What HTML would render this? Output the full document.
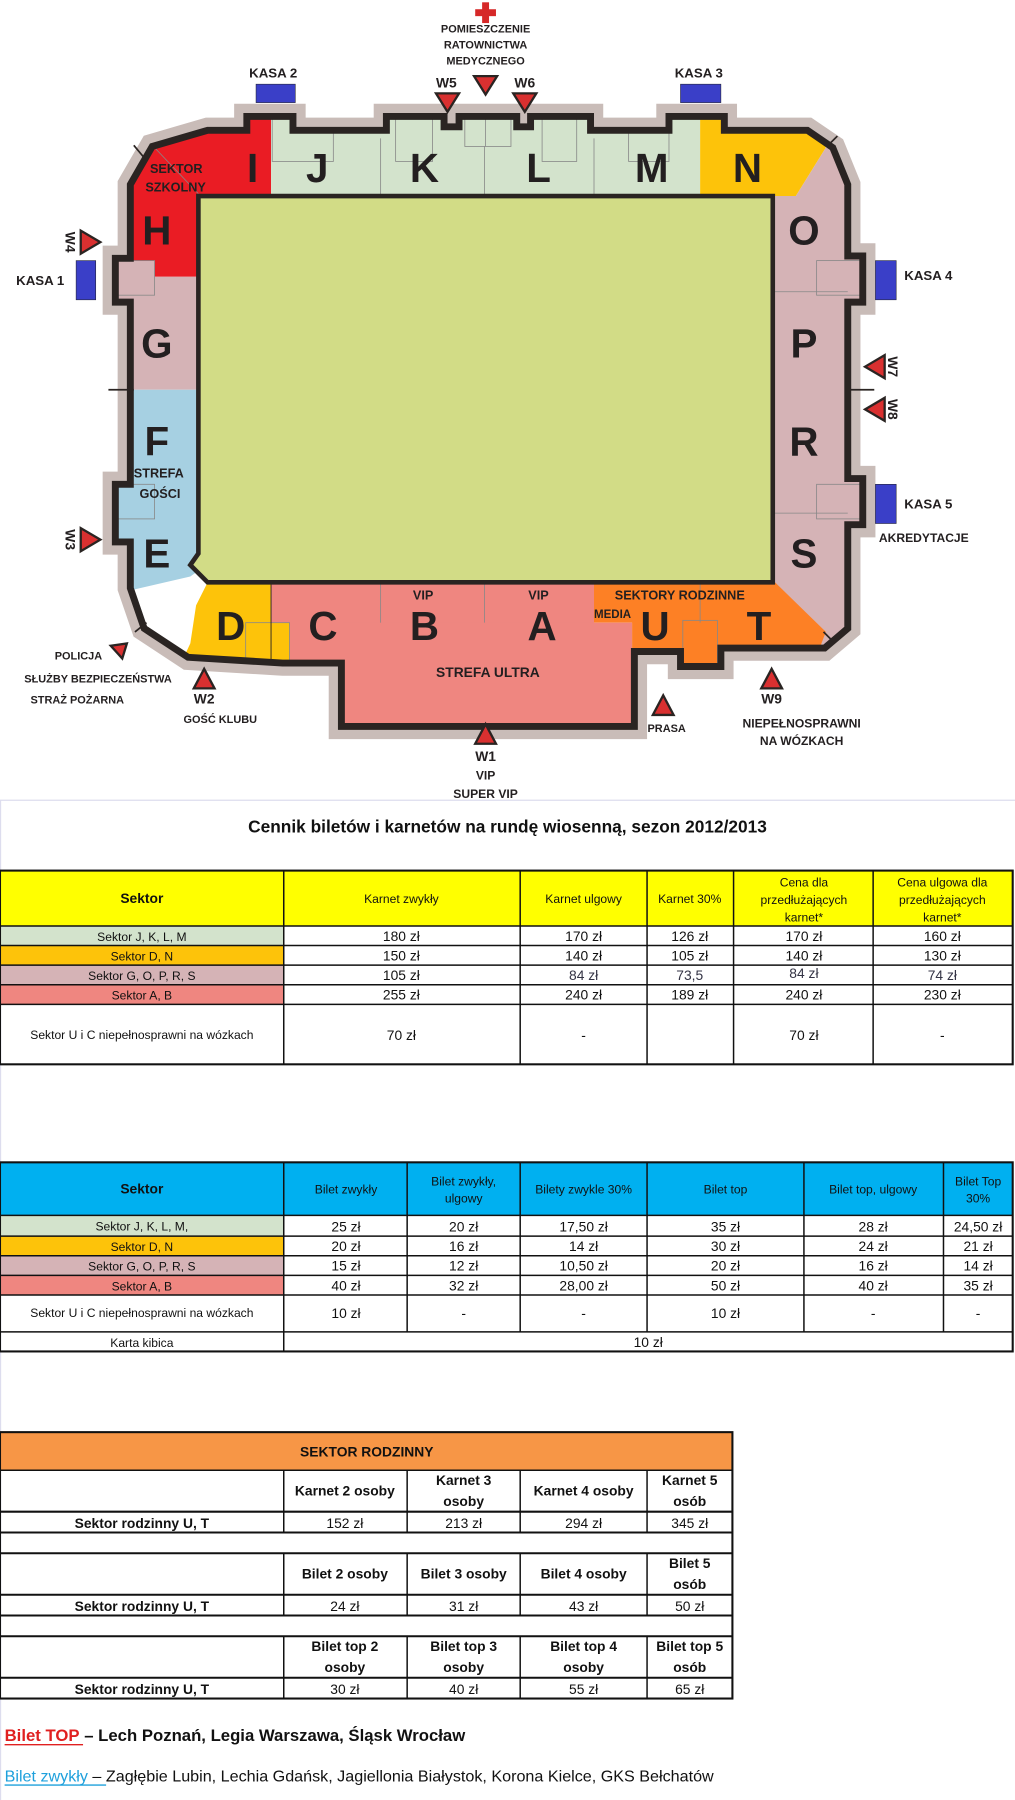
<!DOCTYPE html>
<html><head><meta charset="utf-8"><style>
html,body{margin:0;padding:0;background:#fff;width:1015px;height:1800px;overflow:hidden}
svg{display:block}
text{font-family:"Liberation Sans",Arial,sans-serif}
</style></head><body>
<svg width="1015" height="1800" viewBox="0 0 880 1561" preserveAspectRatio="none" xmlns="http://www.w3.org/2000/svg">
<defs>
<path id="ol" d="M113,160 L132,127 L180,113 L214,113 L214,101 L254,101 L254,113 L335,113 L335,101 L385,101 L385,110 L398,110 L398,101 L448,101 L448,110 L460,110 L460,101 L512,101 L512,113 L580,113 L580,101 L628,101 L628,113 L700,113 L722,128 L735,160 L735,222 L748,222 L748,262 L735,262 L735,415 L748,415 L748,455 L735,455 L735,545 L715,562 L625,562 L625,578 L590,578 L590,565 L550,565 L550,630 L296,630 L296,575 L245,575 L163,570 L125,545 L113,510 L113,470 L100,470 L100,420 L113,420 L113,262 L100,262 L100,224 L113,224 Z"/>
<clipPath id="cp"><use href="#ol"/></clipPath>
</defs>
<rect x="0" y="0" width="880" height="1561" fill="#fff"/>
<use href="#ol" fill="#fff" stroke="#c9bcb8" stroke-width="22" stroke-linejoin="miter"/>
<use href="#ol" fill="#fff"/>
<g clip-path="url(#cp)">
<polygon points="95,95 235,95 235,170 172,170 172,240 95,240" fill="#ea1c24"/>
<rect x="95" y="240" width="77" height="98" fill="#d5b3b6"/>
<polygon points="95,338 172,338 172,495 165,500 113,512 95,512" fill="#a6d0e2"/>
<rect x="235" y="95" width="372" height="75" fill="#d3e3cc"/>
<polygon points="607,95 702,95 716,128 690,170 607,170" fill="#fdc30a"/>
<polygon points="672,170 690,170 716,128 760,128 760,580 720,580 672,505" fill="#d5b3b6"/>
<polygon points="180,505 235,505 235,590 150,590 165,558 170,525" fill="#fdc30a"/>
<rect x="235" y="505" width="280" height="140" fill="#ef8680"/>
<polygon points="515,505 672,505 716,548 700,590 548,590 548,540 515,540" fill="#fd8025"/>
<rect x="297" y="540" width="251" height="95" fill="#ef8680"/>
<g fill="none" stroke="#888" stroke-width="0.7">
<rect x="236" y="102" width="53" height="38" fill="#d3e3cc"/>
<rect x="343" y="102" width="32" height="38"/>
<rect x="403" y="102" width="40" height="25"/>
<line x1="421" y1="102" x2="421" y2="127"/>
<rect x="470" y="102" width="30" height="38"/>
<rect x="545" y="102" width="35" height="38"/>
<rect x="99" y="226" width="35" height="30" fill="#d5b3b6"/>
<rect x="99" y="420" width="35" height="30" fill="#a6d0e2"/>
<rect x="708" y="226" width="38" height="30" fill="#d5b3b6"/>
<rect x="708" y="420" width="38" height="30" fill="#d5b3b6"/>
<rect x="213" y="540" width="38" height="35" fill="#fdc30a"/>
<rect x="592" y="538" width="30" height="40" fill="#fd8025"/>
<line x1="330" y1="120" x2="330" y2="170"/><line x1="420" y1="127" x2="420" y2="170"/><line x1="515" y1="120" x2="515" y2="170"/>
<line x1="330" y1="505" x2="330" y2="540"/><line x1="420" y1="505" x2="420" y2="540"/><line x1="607" y1="505" x2="607" y2="540"/>
<line x1="672" y1="253" x2="735" y2="253"/><line x1="672" y1="445" x2="735" y2="445"/>
<line x1="134" y1="128" x2="172" y2="168"/>
</g>
</g>
<use href="#ol" fill="none" stroke="#2a2422" stroke-width="6" stroke-linejoin="miter"/>
<!-- pitch outline -->
<path d="M172,170 L670,170 L670,505 L180,505 L165,490 L172,480 Z" fill="#d2dc86" stroke="#2a2422" stroke-width="4"/>
<line x1="235" y1="505" x2="235" y2="573" stroke="#2a2422" stroke-width="0.8"/>
<g stroke="#2a2422" stroke-width="1.5"><line x1="94" y1="338" x2="116" y2="338"/><line x1="735" y1="338" x2="758" y2="338"/><line x1="116" y1="126" x2="126" y2="138"/><line x1="718" y1="126" x2="726" y2="118"/><line x1="117" y1="548" x2="127" y2="540"/><line x1="714" y1="548" x2="722" y2="556"/></g>
<!-- big letters -->
<g font-size="35" font-weight="bold" fill="#231f20" text-anchor="middle">
<text x="219" y="158">I</text><text x="275" y="158">J</text><text x="368" y="158">K</text><text x="467" y="158">L</text><text x="565" y="158">M</text><text x="648" y="158">N</text>
<text x="136" y="212">H</text><text x="136" y="310">G</text><text x="136" y="395">F</text><text x="136" y="492">E</text>
<text x="697" y="212">O</text><text x="697" y="310">P</text><text x="697" y="395">R</text><text x="697" y="492">S</text>
<text x="200" y="555">D</text><text x="280" y="555">C</text><text x="368" y="555">B</text><text x="470" y="555">A</text><text x="568" y="555">U</text><text x="658" y="555">T</text>
</g>
<g font-size="11" font-weight="bold" fill="#231f20">
<text x="130" y="150">SEKTOR</text><text x="126" y="166">SZKOLNY</text>
<text x="116" y="414">STREFA</text><text x="121" y="432">GOŚCI</text>
<text x="358" y="520">VIP</text><text x="458" y="520">VIP</text>
<text x="533" y="520">SEKTORY RODZINNE</text><text x="515" y="536" font-size="10">MEDIA</text>
<text x="423" y="587" text-anchor="middle" font-size="12">STREFA ULTRA</text>
</g>
<!-- kasy -->
<g fill="#3a3fc8" stroke="#223" stroke-width="0.5">
<rect x="222" y="73" width="34" height="16"/><rect x="590" y="73" width="35" height="16"/>
<rect x="66" y="226" width="17" height="34"/><rect x="759" y="226" width="18" height="34"/><rect x="759" y="420" width="18" height="34"/>
</g>
<g font-size="11.5" font-weight="bold" fill="#231f20">
<text x="216" y="67">KASA 2</text><text x="585" y="67">KASA 3</text>
<text x="14" y="247">KASA 1</text><text x="784" y="243">KASA 4</text><text x="784" y="441">KASA 5</text>
<text x="762" y="470" font-size="10.5">AKREDYTACJE</text>
</g>
<rect x="418" y="2" width="6" height="18" fill="#d62828"/><rect x="412" y="8" width="18" height="6" fill="#d62828"/>
<g font-size="9.5" font-weight="bold" fill="#231f20" text-anchor="middle">
<text x="421" y="28">POMIESZCZENIE</text><text x="421" y="42">RATOWNICTWA</text><text x="421" y="56">MEDYCZNEGO</text>
<text x="68" y="572">POLICJA</text><text x="85" y="592">SŁUŻBY BEZPIECZEŃSTWA</text><text x="67" y="610">STRAŻ POŻARNA</text>
<text x="191" y="627">GOŚĆ KLUBU</text><text x="578" y="635">PRASA</text>
<text x="695" y="631" font-size="10.5">NIEPEŁNOSPRAWNI</text><text x="695" y="646" font-size="10.5">NA WÓZKACH</text>
<text x="421" y="676" font-size="10.5">VIP</text><text x="421" y="692" font-size="10.5">SUPER VIP</text>
</g>
<g fill="#d93030" stroke="#2a2422" stroke-width="2">
<polygon points="378,81 398,81 388,97"/><polygon points="411,66 431,66 421,82"/><polygon points="445,81 465,81 455,97"/>
<polygon points="70,200 70,220 87,210"/><polygon points="70,458 70,478 87,468"/>
<polygon points="767,308 767,328 750,318"/><polygon points="767,345 767,365 750,355"/>
<polygon points="168,597 186,597 177,580"/><polygon points="412,645 430,645 421,628"/>
<polygon points="660,597 678,597 669,580"/><polygon points="566,620 584,620 575,603"/>
<polygon points="96,560 110,558 106,571"/>
</g>
<g font-size="12" font-weight="bold" fill="#231f20" text-anchor="middle">
<text x="387" y="76">W5</text><text x="455" y="76">W6</text>
<text x="177" y="610">W2</text><text x="421" y="660">W1</text><text x="669" y="610">W9</text>
<text transform="translate(57,210) rotate(90)">W4</text><text transform="translate(57,468) rotate(90)">W3</text>
<text transform="translate(770,318) rotate(90)">W7</text><text transform="translate(770,355) rotate(90)">W8</text>
</g>
<line x1="0" y1="694" x2="880" y2="694" stroke="#dde" stroke-width="1"/>
<line x1="0.5" y1="694" x2="0.5" y2="1561" stroke="#dde" stroke-width="1"/>
<text x="440" y="722" font-size="15" font-weight="bold" text-anchor="middle" fill="#111">Cennik biletów i karnetów na rundę wiosenną, sezon 2012/2013</text>

<rect x="0" y="755" width="878" height="48" fill="#ffff00"/>
<rect x="0" y="803" width="246" height="17" fill="#d3e3cc"/><rect x="0" y="820" width="246" height="17" fill="#fdc30a"/><rect x="0" y="837" width="246" height="17" fill="#d5b3b6"/><rect x="0" y="854" width="246" height="17" fill="#ef8680"/>
<g stroke="#111" stroke-width="1.3" fill="none">
<rect x="0" y="755" width="878" height="168" stroke-width="1.8"/>
<line x1="0" y1="803" x2="878" y2="803"/><line x1="0" y1="820" x2="878" y2="820"/><line x1="0" y1="837" x2="878" y2="837"/><line x1="0" y1="854" x2="878" y2="854"/><line x1="0" y1="871" x2="878" y2="871"/>
<line x1="246" y1="755" x2="246" y2="923"/><line x1="451" y1="755" x2="451" y2="923"/><line x1="561" y1="755" x2="561" y2="923"/><line x1="636" y1="755" x2="636" y2="923"/><line x1="757" y1="755" x2="757" y2="923"/>
</g>
<g font-size="10.5" fill="#111" text-anchor="middle">
<text x="123" y="783" font-weight="bold" font-size="12">Sektor</text>
<text x="348" y="783">Karnet zwykły</text><text x="506" y="783">Karnet ulgowy</text><text x="598" y="783">Karnet 30%</text>
<text x="697" y="769">Cena dla</text><text x="697" y="784">przedłużających</text><text x="697" y="799">karnet*</text>
<text x="817" y="769">Cena ulgowa dla</text><text x="817" y="784">przedłużających</text><text x="817" y="799">karnet*</text>
<text x="123" y="816">Sektor J, K, L, M</text><text x="123" y="833">Sektor D, N</text><text x="123" y="850">Sektor G, O, P, R, S</text><text x="123" y="867">Sektor A, B</text>
<text x="123" y="901">Sektor U i C niepełnosprawni na wózkach</text>
<g font-size="12">
<text x="348" y="816">180 zł</text><text x="506" y="816">170 zł</text><text x="598" y="816">126 zł</text><text x="697" y="816">170 zł</text><text x="817" y="816">160 zł</text>
<text x="348" y="833">150 zł</text><text x="506" y="833">140 zł</text><text x="598" y="833">105 zł</text><text x="697" y="833">140 zł</text><text x="817" y="833">130 zł</text>
<text x="348" y="850">105 zł</text><text x="506" y="850" fill="#334">84 zł</text><text x="598" y="850" fill="#334">73,5</text><text x="697" y="848" fill="#334">84 zł</text><text x="817" y="850" fill="#334">74 zł</text>
<text x="348" y="867">255 zł</text><text x="506" y="867">240 zł</text><text x="598" y="867">189 zł</text><text x="697" y="867">240 zł</text><text x="817" y="867">230 zł</text>
<text x="348" y="902">70 zł</text><text x="506" y="902">-</text><text x="697" y="902">70 zł</text><text x="817" y="902">-</text>
</g></g>

<rect x="0" y="1008" width="878" height="46" fill="#00b0f0"/>
<rect x="0" y="1054" width="246" height="18" fill="#d3e3cc"/><rect x="0" y="1072" width="246" height="17" fill="#fdc30a"/><rect x="0" y="1089" width="246" height="17" fill="#d5b3b6"/><rect x="0" y="1106" width="246" height="17" fill="#ef8680"/>
<g stroke="#111" stroke-width="1.3" fill="none">
<rect x="0" y="1008" width="878" height="164" stroke-width="1.8"/>
<line x1="0" y1="1054" x2="878" y2="1054"/><line x1="0" y1="1072" x2="878" y2="1072"/><line x1="0" y1="1089" x2="878" y2="1089"/><line x1="0" y1="1106" x2="878" y2="1106"/><line x1="0" y1="1123" x2="878" y2="1123"/><line x1="0" y1="1155" x2="878" y2="1155"/>
<line x1="246" y1="1008" x2="246" y2="1172"/>
<line x1="353" y1="1008" x2="353" y2="1155"/><line x1="451" y1="1008" x2="451" y2="1155"/><line x1="561" y1="1008" x2="561" y2="1155"/><line x1="697" y1="1008" x2="697" y2="1155"/><line x1="818" y1="1008" x2="818" y2="1155"/>
</g>
<g font-size="10.5" fill="#111" text-anchor="middle">
<text x="123" y="1035" font-weight="bold" font-size="12">Sektor</text>
<text x="300" y="1035">Bilet zwykły</text><text x="402" y="1028">Bilet zwykły,</text><text x="402" y="1043">ulgowy</text>
<text x="506" y="1035">Bilety zwykle 30%</text><text x="629" y="1035">Bilet top</text><text x="757" y="1035">Bilet top, ulgowy</text>
<text x="848" y="1028">Bilet Top</text><text x="848" y="1043">30%</text>
<text x="123" y="1067">Sektor J, K, L, M,</text><text x="123" y="1085">Sektor D, N</text><text x="123" y="1102">Sektor G, O, P, R, S</text><text x="123" y="1119">Sektor A, B</text>
<text x="123" y="1142">Sektor U i C niepełnosprawni na wózkach</text><text x="123" y="1168">Karta kibica</text>
<g font-size="12">
<text x="300" y="1068">25 zł</text><text x="402" y="1068">20 zł</text><text x="506" y="1068">17,50 zł</text><text x="629" y="1068">35 zł</text><text x="757" y="1068">28 zł</text><text x="848" y="1068">24,50 zł</text>
<text x="300" y="1085">20 zł</text><text x="402" y="1085">16 zł</text><text x="506" y="1085">14 zł</text><text x="629" y="1085">30 zł</text><text x="757" y="1085">24 zł</text><text x="848" y="1085">21 zł</text>
<text x="300" y="1102">15 zł</text><text x="402" y="1102">12 zł</text><text x="506" y="1102">10,50 zł</text><text x="629" y="1102">20 zł</text><text x="757" y="1102">16 zł</text><text x="848" y="1102">14 zł</text>
<text x="300" y="1119">40 zł</text><text x="402" y="1119">32 zł</text><text x="506" y="1119">28,00 zł</text><text x="629" y="1119">50 zł</text><text x="757" y="1119">40 zł</text><text x="848" y="1119">35 zł</text>
<text x="300" y="1143">10 zł</text><text x="402" y="1143">-</text><text x="506" y="1143">-</text><text x="629" y="1143">10 zł</text><text x="757" y="1143">-</text><text x="848" y="1143">-</text>
<text x="562" y="1168">10 zł</text>
</g></g>

<rect x="0" y="1242" width="635" height="33" fill="#f79646"/>
<g stroke="#111" stroke-width="1.3" fill="none">
<rect x="0" y="1242" width="635" height="231" stroke-width="1.8"/>
<line x1="0" y1="1275" x2="635" y2="1275"/>
<line x1="0" y1="1311" x2="635" y2="1311" stroke-width="1.8"/><line x1="0" y1="1329" x2="635" y2="1329" stroke-width="1.8"/><line x1="0" y1="1347" x2="635" y2="1347" stroke-width="1.8"/>
<line x1="0" y1="1383" x2="635" y2="1383" stroke-width="1.8"/><line x1="0" y1="1401" x2="635" y2="1401" stroke-width="1.8"/><line x1="0" y1="1419" x2="635" y2="1419" stroke-width="1.8"/>
<line x1="0" y1="1455" x2="635" y2="1455" stroke-width="1.8"/>
<g><line x1="246" y1="1275" x2="246" y2="1329"/><line x1="353" y1="1275" x2="353" y2="1329"/><line x1="451" y1="1275" x2="451" y2="1329"/><line x1="561" y1="1275" x2="561" y2="1329"/></g>
<g><line x1="246" y1="1347" x2="246" y2="1401"/><line x1="353" y1="1347" x2="353" y2="1401"/><line x1="451" y1="1347" x2="451" y2="1401"/><line x1="561" y1="1347" x2="561" y2="1401"/></g>
<g><line x1="246" y1="1419" x2="246" y2="1473"/><line x1="353" y1="1419" x2="353" y2="1473"/><line x1="451" y1="1419" x2="451" y2="1473"/><line x1="561" y1="1419" x2="561" y2="1473"/></g>
</g>
<g font-size="12" fill="#111" text-anchor="middle">
<text x="318" y="1263" font-weight="bold">SEKTOR RODZINNY</text>
<g font-weight="bold">
<text x="299" y="1297">Karnet 2 osoby</text><text x="402" y="1288">Karnet 3</text><text x="402" y="1306">osoby</text><text x="506" y="1297">Karnet 4 osoby</text><text x="598" y="1288">Karnet 5</text><text x="598" y="1306">osób</text>
<text x="123" y="1325">Sektor rodzinny U, T</text>
<text x="299" y="1369">Bilet 2 osoby</text><text x="402" y="1369">Bilet 3 osoby</text><text x="506" y="1369">Bilet 4 osoby</text><text x="598" y="1360">Bilet 5</text><text x="598" y="1378">osób</text>
<text x="123" y="1397">Sektor rodzinny U, T</text>
<text x="299" y="1432">Bilet top 2</text><text x="299" y="1450">osoby</text><text x="402" y="1432">Bilet top 3</text><text x="402" y="1450">osoby</text><text x="506" y="1432">Bilet top 4</text><text x="506" y="1450">osoby</text><text x="598" y="1432">Bilet top 5</text><text x="598" y="1450">osób</text>
<text x="123" y="1469">Sektor rodzinny U, T</text>
</g>
<text x="299" y="1325">152 zł</text><text x="402" y="1325">213 zł</text><text x="506" y="1325">294 zł</text><text x="598" y="1325">345 zł</text>
<text x="299" y="1397">24 zł</text><text x="402" y="1397">31 zł</text><text x="506" y="1397">43 zł</text><text x="598" y="1397">50 zł</text>
<text x="299" y="1469">30 zł</text><text x="402" y="1469">40 zł</text><text x="506" y="1469">55 zł</text><text x="598" y="1469">65 zł</text>
</g>
<text x="4" y="1510" font-size="14.5" font-weight="bold" fill="#111"><tspan fill="#e02020">Bilet TOP</tspan> – Lech Poznań, Legia Warszawa, Śląsk Wrocław</text>
<line x1="4" y1="1513" x2="72" y2="1513" stroke="#e02020" stroke-width="1.2"/>
<text x="4" y="1545" font-size="14" fill="#111"><tspan fill="#1ea0dc">Bilet zwykły</tspan> – Zagłębie Lubin, Lechia Gdańsk, Jagiellonia Białystok, Korona Kielce, GKS Bełchatów</text>
<line x1="4" y1="1548" x2="92" y2="1548" stroke="#1ea0dc" stroke-width="1.2"/>
</svg>
</body></html>
